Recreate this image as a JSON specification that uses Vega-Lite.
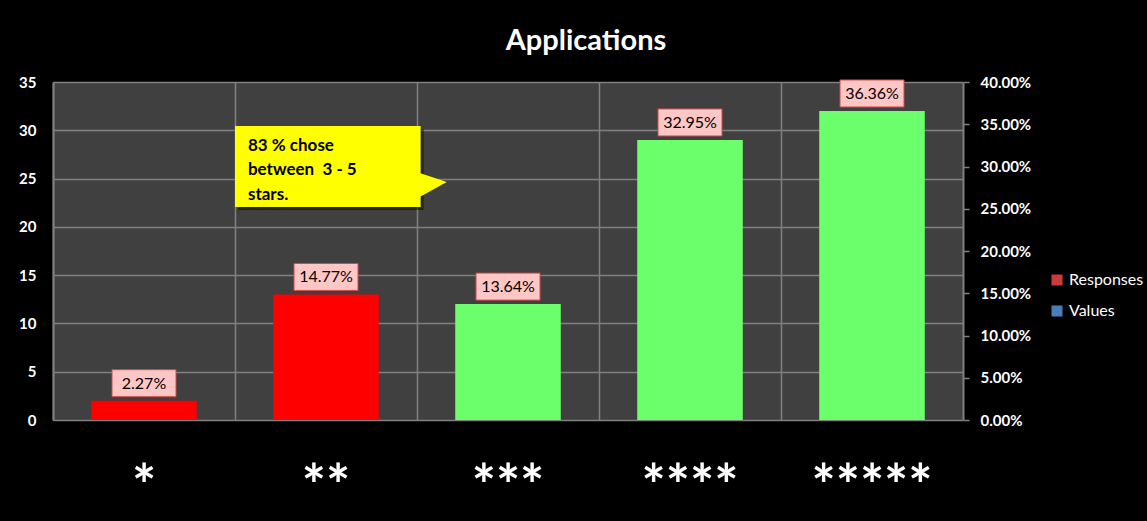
{
  "$schema": "https://vega.github.io/schema/vega-lite/v6.json",
  "width": 910,
  "height": 338,
  "autosize": "none",
  "padding": {"left": 53, "top": 82, "right": 184, "bottom": 101},
  "background": "black",
  "config": {
    "view": {"fill": "#404040", "stroke": null},
    "font": "Lato"
  },
  "title": {
    "text": "Applications",
    "color": "white",
    "fontSize": 29,
    "fontWeight": "bold",
    "font": "Lato",
    "anchor": "middle",
    "dx": 78,
    "offset": 19
  },
  "data": {
    "values": [
      {"rating": "*", "responses": 2, "pct": 0.0227, "group": "1-2 stars"},
      {"rating": "**", "responses": 13, "pct": 0.1477, "group": "1-2 stars"},
      {"rating": "***", "responses": 12, "pct": 0.1364, "group": "3-5 stars"},
      {"rating": "****", "responses": 29, "pct": 0.3295, "group": "3-5 stars"},
      {"rating": "*****", "responses": 32, "pct": 0.3636, "group": "3-5 stars"}
    ]
  },
  "layer": [
    {
      "layer": [
        {
          "layer": [
            {
              "mark": {"type": "bar", "stroke": "#b00000", "strokeWidth": 0},
              "encoding": {
                "x": {
                  "field": "rating",
                  "type": "nominal",
                  "sort": null,
                  "scale": {"paddingInner": 0.42, "paddingOuter": 0.21},
                  "axis": {
                    "title": null,
                    "labelAngle": 0,
                    "labelColor": "white",
                    "labelFontSize": 57,
                    "labelFontWeight": "bold",
                    "labelFont": "Lato",
                    "labelPadding": 40,
                    "ticks": false,
                    "tickSize": 0,
                    "domain": false,
                    "grid": true,
                    "bandPosition": -0.362,
                    "gridColor": "#808080",
                    "gridWidth": 1.5
                  }
                },
                "y": {
                  "field": "responses",
                  "type": "quantitative",
                  "scale": {"domain": [0, 35], "nice": false},
                  "axis": {
                    "title": null,
                    "values": [0, 5, 10, 15, 20, 25, 30, 35],
                    "labelColor": "white",
                    "labelFontSize": 15,
                    "labelFontWeight": "bold",
                    "labelPadding": 17,
                    "ticks": false,
                    "tickSize": 0,
                    "domain": true,
                    "domainColor": "#808080",
                    "domainWidth": 2,
                    "grid": true,
                    "gridColor": "#808080",
                    "gridWidth": 1.5
                  }
                },
                "fill": {
                  "field": "group",
                  "type": "nominal",
                  "scale": {"domain": ["1-2 stars", "3-5 stars"], "range": ["#ff0000", "#6bff6b"]},
                  "legend": null
                }
              }
            },
            {
              "mark": {
                "type": "bar",
                "width": 64,
                "yOffset": -31,
                "y2Offset": -4,
                "fill": "#ffc6c6",
                "stroke": "#d04a4a",
                "strokeWidth": 1
              },
              "encoding": {
                "x": {"field": "rating", "type": "nominal", "sort": null},
                "y": {"field": "responses", "type": "quantitative"},
                "y2": {"field": "responses"}
              }
            },
            {
              "mark": {
                "type": "text",
                "dy": -17,
                "baseline": "middle",
                "align": "center",
                "fontSize": 16,
                "font": "Lato",
                "color": "black"
              },
              "encoding": {
                "x": {"field": "rating", "type": "nominal", "sort": null},
                "y": {"field": "responses", "type": "quantitative"},
                "text": {"field": "pct", "type": "quantitative", "format": ".2%"}
              }
            }
          ]
        },
        {
          "data": {"values": [{"note": "83 % chose\nbetween\u00a0 3 - 5\nstars."}]},
          "layer": [
            {
              "mark": {"type": "rect", "fill": "black", "opacity": 0.45, "xOffset": 3, "yOffset": 3, "x2Offset": 3, "y2Offset": 3},
              "encoding": {
                "x": {"datum": 1.0, "type": "quantitative", "scale": {"domain": [0, 5], "nice": false}, "axis": null},
                "x2": {"datum": 2.02},
                "y": {"datum": 30.45, "type": "quantitative"},
                "y2": {"datum": 22.05}
              }
            },
            {
              "mark": {"type": "rect", "fill": "#ffff00"},
              "encoding": {
                "x": {"datum": 1.0, "type": "quantitative"},
                "x2": {"datum": 2.02},
                "y": {"datum": 30.45, "type": "quantitative"},
                "y2": {"datum": 22.05}
              }
            },
            {
              "mark": {
                "type": "point",
                "shape": "M0,-1.2 L2.7,-0.3 L0,1.2 Z",
                "size": 400,
                "filled": true,
                "fill": "#ffff00",
                "opacity": 1,
                "strokeWidth": 0
              },
              "encoding": {
                "x": {"datum": 2.015, "type": "quantitative"},
                "y": {"datum": 24.33, "type": "quantitative"}
              }
            },
            {
              "mark": {
                "type": "text",
                "lineBreak": "\n",
                "lineHeight": 24.5,
                "align": "left",
                "baseline": "middle",
                "fontSize": 17,
                "fontWeight": "bold",
                "font": "Lato",
                "color": "black"
              },
              "encoding": {
                "x": {"datum": 1.071, "type": "quantitative"},
                "y": {"datum": 28.4, "type": "quantitative"},
                "text": {"field": "note"}
              }
            }
          ]
        }
      ],
      "resolve": {"scale": {"x": "independent"}}
    },
    {
      "mark": {"type": "square", "filled": true, "opacity": 0},
      "encoding": {
        "y": {
          "field": "pct",
          "type": "quantitative",
          "scale": {"domain": [0, 0.4], "nice": false},
          "axis": {
            "orient": "right",
            "title": null,
            "format": ".2%",
            "values": [0, 0.05, 0.1, 0.15, 0.2, 0.25, 0.3, 0.35, 0.4],
            "labelColor": "white",
            "labelFontSize": 15,
            "labelFontWeight": "bold",
            "labelPadding": 11,
            "ticks": true,
            "tickSize": 6,
            "tickColor": "#808080",
            "tickWidth": 1.5,
            "domain": true,
            "domainColor": "#808080",
            "domainWidth": 2,
            "grid": false
          }
        },
        "color": {
          "datum": "Responses",
          "scale": {"domain": ["Responses", "Values"], "range": ["#cc3b3b", "#4a7ebb"]},
          "legend": {
            "title": null,
            "orient": "none",
            "legendX": 996,
            "legendY": 190,
            "symbolType": "square",
            "symbolSize": 121,
            "symbolOpacity": 1,
            "symbolStrokeWidth": 0,
            "labelColor": "white",
            "labelFontSize": 16,
            "labelFont": "Lato",
            "rowPadding": 15,
            "labelOffset": 4
          }
        }
      }
    }
  ],
  "resolve": {"scale": {"y": "independent"}}
}
